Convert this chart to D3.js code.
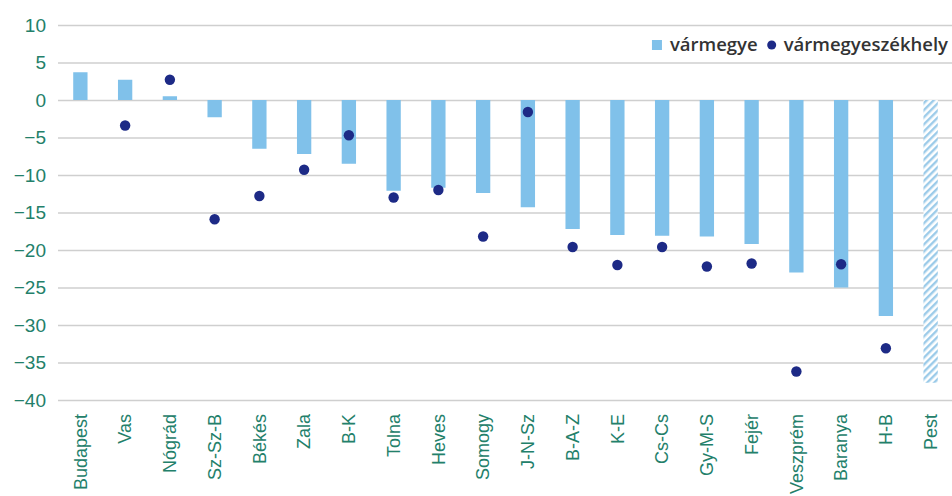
<!DOCTYPE html>
<html>
<head>
<meta charset="utf-8">
<script src="https://cdn.jsdelivr.net/npm/d3@7"></script>
<style>
    body { margin: 0; background: #fff; }
    svg { display: block; font-family: "Open Sans", sans-serif; }
</style>
</head>
<body>
<div id="chart"></div>
<script>
// Categories along the x axis
const categories = ["Budapest", "Vas", "Nógrád", "Sz-Sz-B", "Békés", "Zala", "B-K", "Tolna", "Heves", "Somogy",
    "J-N-Sz", "B-A-Z", "K-E", "Cs-Cs", "Gy-M-S", "Fejér", "Veszprém", "Baranya", "H-B", "Pest"];

// vármegye (bars), Pest is drawn hatched
const megyeValues = [3.7, 2.7, 0.5, -2.3, -6.5, -7.2, -8.5, -12.1, -11.7, -12.4,
    -14.3, -17.2, -18.0, -18.1, -18.2, -19.2, -23.0, -25.0, -28.8, -37.7];

// vármegyeszékhely (dots), null where there is none
const szekhelyValues = [null, -3.4, 2.7, -15.9, -12.8, -9.3, -4.7, -13.0, -12.0, -18.2,
    -1.6, -19.6, -22.0, -19.6, -22.2, -21.8, -36.2, -21.9, -33.1, null];

const yTicks = [10, 5, 0, -5, -10, -15, -20, -25, -30, -35, -40];

const width = 952, height = 496;
const margin = {top: 25, right: 0, bottom: 96, left: 58};

const svg = d3.select("#chart").append("svg")
    .attr("width", width)
    .attr("height", height);

const x = d3.scaleBand()
    .domain(categories)
    .range([margin.left, width - margin.right + 1])
    .paddingInner(0.68)
    .paddingOuter(0.34);

const y = d3.scaleLinear()
    .domain([-40, 10])
    .range([height - margin.bottom, margin.top]);

const rows = categories.map((c, i) => ({cat: c, megye: megyeValues[i], szekhely: szekhelyValues[i]}));

// Hatch pattern for Pest
const defs = svg.append("defs");
const pat = defs.append("pattern")
    .attr("id", "hatch")
    .attr("patternUnits", "userSpaceOnUse")
    .attr("width", 5)
    .attr("height", 5)
    .attr("patternTransform", "rotate(45)");
pat.append("rect").attr("width", 5).attr("height", 5).attr("fill", "#fff");
pat.append("rect").attr("width", 2.4).attr("height", 5).attr("fill", "#9ccbe9");

// Gridlines + y labels
const yAxis = svg.append("g")
    .attr("transform", `translate(${margin.left},0)`)
    .call(d3.axisLeft(y).tickValues(yTicks).tickSize(-(width - margin.left)).tickPadding(12));
yAxis.select(".domain").remove();
yAxis.selectAll(".tick line").attr("stroke", "#cfcfcf").attr("stroke-width", 1.3);
yAxis.selectAll(".tick text")
    .attr("fill", "#23806a")
    .attr("font-size", 19);

// Bars
svg.selectAll(".bar")
    .data(rows)
    .enter()
    .append("rect")
    .attr("class", "bar")
    .attr("x", d => x(d.cat))
    .attr("width", x.bandwidth())
    .attr("y", d => y(Math.max(0, d.megye)))
    .attr("height", d => Math.abs(y(d.megye) - y(0)))
    .attr("fill", d => d.cat === "Pest" ? "url(#hatch)" : "#80c1ea");

// Dots
svg.selectAll(".dot")
    .data(rows.filter(d => d.szekhely !== null))
    .enter()
    .append("circle")
    .attr("class", "dot")
    .attr("cx", d => x(d.cat) + x.bandwidth() / 2)
    .attr("cy", d => y(d.szekhely))
    .attr("r", 5.2)
    .attr("fill", "#1d2a86");

// X labels, rotated
const xAxis = svg.append("g")
    .attr("transform", `translate(0,${height - margin.bottom})`)
    .call(d3.axisBottom(x).tickSize(0).tickPadding(0));
xAxis.select(".domain").remove();
xAxis.selectAll(".tick text")
    .attr("fill", "#23806a")
    .attr("font-size", 18)
    .attr("text-anchor", "end")
    .attr("dy", "0.35em")
    .attr("transform", "translate(0,14) rotate(-90)");

// Legend, right-aligned to the chart edge
const legend = svg.append("g").attr("transform", "translate(0,45)")
    .attr("font-size", 18.5).attr("font-weight", 600).attr("fill", "#333");
const t2 = legend.append("text").attr("x", 948).attr("y", 0).attr("dy", "0.35em")
    .attr("text-anchor", "end").text("vármegyeszékhely");
const x2 = 948 - t2.node().getComputedTextLength();
legend.append("circle").attr("cx", x2 - 12).attr("cy", 0).attr("r", 4.5).attr("fill", "#1d2a86");
const t1 = legend.append("text").attr("x", x2 - 26).attr("y", 0).attr("dy", "0.35em")
    .attr("text-anchor", "end").text("vármegye");
const x1 = x2 - 26 - t1.node().getComputedTextLength();
legend.append("rect").attr("x", x1 - 18).attr("y", -5).attr("width", 10).attr("height", 10).attr("fill", "#80c1ea");
</script>
</body>
</html>
